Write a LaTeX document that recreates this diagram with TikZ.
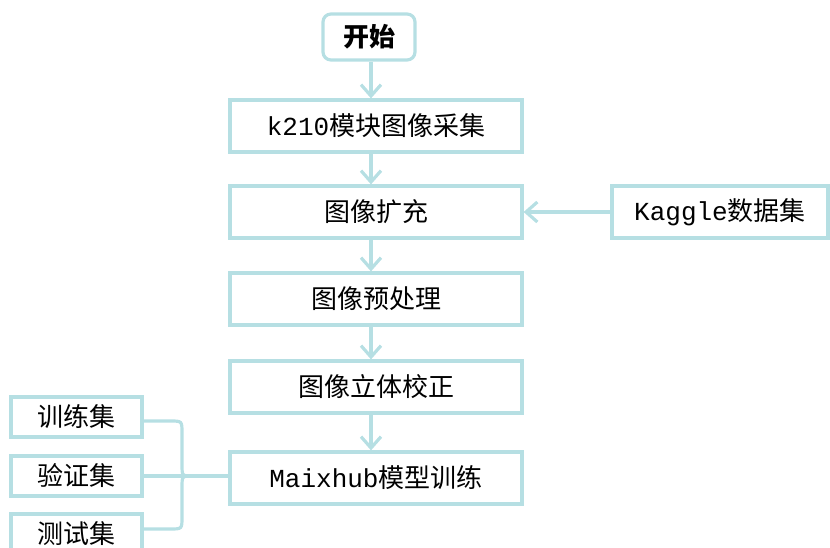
\documentclass[tikz,border=0pt]{standalone}
\usepackage{fontspec}
\setmainfont{Noto Sans CJK SC}
\newfontfamily\lat{Liberation Mono}
\usetikzlibrary{arrows.meta}
\definecolor{cy}{RGB}{182,223,227}
\tikzset{
  box/.style={draw=cy, line width=2.4pt, minimum height=52*0.75pt, inner sep=0pt, font=\fontsize{19.5}{21}\selectfont, text=black},
  mainbox/.style={box, minimum width=292*0.75pt},
  sidebox/.style={box, minimum width=131*0.75pt, minimum height=40*0.75pt},
  arr/.style={draw=cy, line width=2.4pt, -{Straight Barb[length=8.5pt,width=15pt,line width=2.4pt]}},
  conn/.style={draw=cy, line width=2.4pt},
}
\begin{document}
\begin{tikzpicture}[x=0.75pt,y=-0.75pt]
\useasboundingbox (0,0) rectangle (830,548);
\node[box, rounded corners=6pt, minimum width=92*0.75pt, minimum height=46*0.75pt, font=\fontsize{19.5}{21}\selectfont\bfseries] (start) at (369,37) {开始};
\node[mainbox] (b1) at (376,126) {{\lat k210}模块图像采集};
\node[mainbox] (b2) at (376,212) {图像扩充};
\node[mainbox] (b3) at (376,299) {图像预处理};
\node[mainbox] (b4) at (376,387) {图像立体校正};
\node[mainbox] (b5) at (376,478) {{\lat Maixhub}模型训练};
\node[box, minimum width=216*0.75pt] (kg) at (720,212) {{\lat Kaggle}数据集};
\node[sidebox] (s1) at (76.5,417) {训练集};
\node[sidebox] (s2) at (76.5,476) {验证集};
\node[sidebox] (s3) at (76.5,534) {测试集};
\coordinate (j) at (190,476);
\draw[arr] (start.south -| 371,0) -- (b1.north -| 371,0);
\draw[arr] (b1.south -| 371,0) -- (b2.north -| 371,0);
\draw[arr] (b2.south -| 371,0) -- (b3.north -| 371,0);
\draw[arr] (b3.south -| 371,0) -- (b4.north -| 371,0);
\draw[arr] (b4.south -| 371,0) -- (b5.north -| 371,0);
\draw[arr] (kg.west) -- (b2.east);
\draw[conn] (s1.east |- 0,421) -- (170,421) .. controls (182,421) .. (182,433) -- (182,463) .. controls (182,476) .. (j);
\draw[conn] (s3.east |- 0,529) -- (170,529) .. controls (182,529) .. (182,517) -- (182,489) .. controls (182,476) .. (j);
\draw[conn] (s2.east) -- (j) -- (b5.west |- j);
\end{tikzpicture}
\end{document}
